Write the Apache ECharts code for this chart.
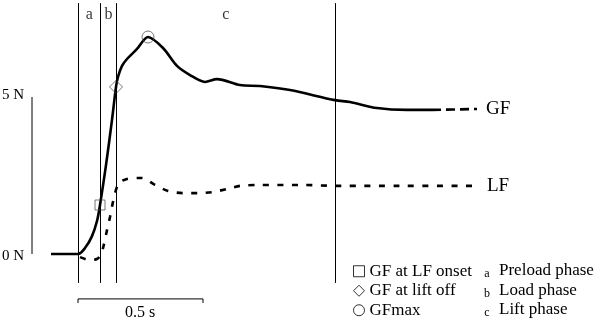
<!DOCTYPE html>
<html>
<head>
<meta charset="utf-8">
<script src="https://cdn.jsdelivr.net/npm/echarts@6/dist/echarts.min.js"></script>
<style>
html,body{margin:0;padding:0;background:#fff;}
#chart{width:600px;height:323px;}
</style>
</head>
<body>
<div id="chart"></div>
<script>
// ---- data (time in s, force in N) ----
const gfTime  = [-0.108, 0, 0.028, 0.056, 0.076, 0.088, 0.112, 0.136, 0.152, 0.160, 0.176, 0.196, 0.236, 0.280, 0.340, 0.396, 0.448, 0.508, 0.556, 0.648, 0.728, 0.848, 1.028, 1.088, 1.196, 1.316, 1.416];
const gfForce = [0, 0, 0.19, 0.57, 1.05, 1.56, 2.83, 4.27, 5.32, 5.64, 5.99, 6.21, 6.53, 6.91, 6.56, 5.99, 5.70, 5.48, 5.57, 5.38, 5.35, 5.22, 4.90, 4.84, 4.65, 4.59, 4.59];
const gfTailTime  = [1.416, 1.500, 1.596];
const gfTailForce = [4.59, 4.60, 4.62];
const lfTime  = [0.008, 0.048, 0.076, 0.088, 0.100, 0.116, 0.128, 0.140, 0.152, 0.164, 0.196, 0.256, 0.308, 0.360, 0.420, 0.480, 0.536, 0.596, 0.648, 0.728, 0.888, 1.048, 1.288, 1.580];
const lfForce = [-0.10, -0.19, -0.16, -0.06, 0.19, 0.76, 1.18, 1.66, 2.04, 2.26, 2.39, 2.42, 2.20, 2.01, 1.94, 1.94, 1.97, 2.07, 2.17, 2.20, 2.20, 2.17, 2.17, 2.17];
const eventNames = ['GF at LF onset', 'GF at lift off', 'GFmax'];
const eventTime  = [0.088, 0.152, 0.280];
const eventForce = [1.56, 5.32, 6.91];
const eventSymbols = ['rect', 'diamond', 'circle'];
const phaseBounds = [0, 0.09, 0.154, 1.028];
const phaseLetters = ['a', 'b', 'c'];
const phaseNames = ['Preload phase', 'Load phase', 'Lift phase'];
const forceScaleValue = 5;     // N
const forceScaleLabels = ['0 N', '5 N'];
const timeScaleValue = 0.5;    // s
const timeScaleLabel = '0.5 s';

// ---- layout constants ----
const FONT = 'Liberation Serif';
const xMin = -0.312, xMax = 2.088;
const yMin = -2.197, yMax = 8.089;
const phaseTop = 7.99, phaseBottom = -0.92;
const forceBarT = -0.184;
const timeBarF = -1.43, timeTickF = -1.56;

const zip = (a, b) => a.map((v, i) => [v, b[i]]);

const chart = echarts.init(document.getElementById('chart'), null, {renderer: 'canvas'});

const series = [];

// GF solid
series.push({
  type: 'line', name: 'GF', data: zip(gfTime, gfForce), smooth: 0.3,
  symbol: 'none', lineStyle: {color: '#000', width: 2.6}, z: 3,
  markLine: {
    silent: true, symbol: 'none', animation: false,
    lineStyle: {color: '#000', width: 1, type: 'solid'},
    label: {show: false},
    data: phaseBounds.map(t => [{coord: [t, phaseTop]}, {coord: [t, phaseBottom]}])
  }
});
// GF dashed tail
series.push({
  type: 'line', name: 'GF tail', data: zip(gfTailTime, gfTailForce), smooth: false,
  symbol: 'none', lineStyle: {color: '#000', width: 2.6, type: [9, 5]},
  endLabel: {show: true, formatter: 'GF', distance: 9, color: '#000', fontFamily: FONT, fontSize: 19}
});
// LF dashed
series.push({
  type: 'line', name: 'LF', data: zip(lfTime, lfForce), smooth: 0.3,
  symbol: 'none', lineStyle: {color: '#000', width: 2.6, type: [6, 8.5]},
  endLabel: {show: true, formatter: 'LF', distance: 14, color: '#000', fontFamily: FONT, fontSize: 19}
});
// Event markers
eventNames.forEach((n, i) => {
  series.push({
    type: 'scatter', name: n, data: [[eventTime[i], eventForce[i]]],
    symbol: eventSymbols[i], symbolSize: eventSymbols[i] === 'diamond' ? 13 : (eventSymbols[i] === 'circle' ? 12 : 10),
    itemStyle: {color: 'rgba(0,0,0,0)', borderColor: '#555', borderWidth: 1}, z: 4
  });
});
// Phase letters at phase midpoints
series.push({
  type: 'scatter', name: 'phase letters',
  data: phaseLetters.map((l, i) => ({value: [(phaseBounds[i] + phaseBounds[i + 1]) / 2, 7.62], name: l})),
  symbolSize: 0,
  label: {show: true, position: 'inside', formatter: p => p.name, color: '#000', fontFamily: FONT, fontSize: 16}
});
// Force scale bar
series.push({
  type: 'line', name: 'force bar', data: [[forceBarT, 0], [forceBarT, forceScaleValue]],
  symbol: 'none', lineStyle: {color: '#000', width: 1}
});
// Time scale bar
series.push({
  type: 'line', name: 'time bar',
  data: [[0, timeTickF], [0, timeBarF], [timeScaleValue, timeBarF], [timeScaleValue, timeTickF]],
  symbol: 'none', lineStyle: {color: '#000', width: 1}
});

const option = {
  animation: false,
  backgroundColor: '#fff',
  grid: {left: 0, right: 0, top: 0, bottom: 0},
  xAxis: {type: 'value', min: xMin, max: xMax, show: false},
  yAxis: {type: 'value', min: yMin, max: yMax, show: false},
  legend: {
    orient: 'vertical', left: 353, top: 262, itemGap: 1, padding: 0, height: 61,
    itemWidth: 11, itemHeight: 11, itemStyle: {borderColor: '#000', borderWidth: 1},
    textStyle: {color: '#000', fontFamily: FONT, fontSize: 17, lineHeight: 18.5},
    data: eventNames.map((n, i) => ({name: n, icon: eventSymbols[i]})),
    selectedMode: false
  },
  graphic: [
    {type: 'text', style: {x: 24, y: 95, text: forceScaleLabels[1], textAlign: 'right', textVerticalAlign: 'middle', font: '15px "Liberation Serif"', fill: '#000'}},
    {type: 'text', style: {x: 24, y: 256, text: forceScaleLabels[0], textAlign: 'right', textVerticalAlign: 'middle', font: '15px "Liberation Serif"', fill: '#000'}},
    {type: 'text', style: {x: 140, y: 313, text: timeScaleLabel, textAlign: 'center', textVerticalAlign: 'middle', font: '16px "Liberation Serif"', fill: '#000'}}
  ].concat(phaseLetters.map((l, i) => ({
    type: 'text', style: {x: 487, y: 274 + i * 19.5, text: l, textAlign: 'center', textVerticalAlign: 'middle', font: '12px "Liberation Serif"', fill: '#000'}
  }))).concat(phaseNames.map((n, i) => ({
    type: 'text', style: {x: 499, y: 271 + i * 19.5, text: n, textAlign: 'left', textVerticalAlign: 'middle', font: '17px "Liberation Serif"', fill: '#000'}
  }))),
  series: series
};
chart.setOption(option);
</script>
</body>
</html>
